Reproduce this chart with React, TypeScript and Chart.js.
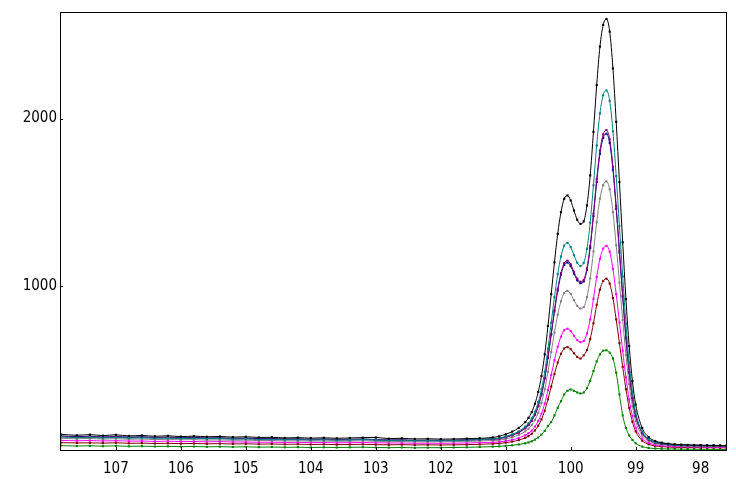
import React, { useEffect, useRef } from "react";
import { Chart, registerables } from "chart.js";

Chart.register(...registerables);

// Binding energy (eV)
const energies = [
  107.85, 107.6, 107.4, 107.2, 107.0, 106.8, 106.6, 106.4, 106.2, 106.0,
  105.8, 105.6, 105.4, 105.2, 105.0, 104.8, 104.6, 104.4, 104.2, 104.0,
  103.8, 103.6, 103.4, 103.2, 103.0, 102.8, 102.6, 102.4, 102.2, 102.0,
  101.8, 101.6, 101.4, 101.2,
  101.1, 101.0, 100.9, 100.8, 100.7,
  100.65, 100.6, 100.55, 100.5, 100.45, 100.4, 100.35, 100.3, 100.25, 100.2,
  100.15, 100.1, 100.05, 100.0, 99.95, 99.9, 99.85, 99.8, 99.75, 99.7,
  99.65, 99.6, 99.55, 99.5, 99.45, 99.4, 99.35, 99.3, 99.25, 99.2,
  99.15, 99.1, 99.05, 99.0,
  98.9, 98.8, 98.7, 98.6, 98.5, 98.4, 98.3, 98.2, 98.1, 98.0, 97.9, 97.8, 97.7, 97.6,
];

const blackSeries = [
  112, 106, 110, 104, 109, 102, 105, 100, 103, 98, 101, 97, 99, 95, 97, 93, 94, 90, 92, 89,
  91, 88, 90, 92, 93, 86, 88, 84, 85, 83, 84, 86, 88, 93,
  100, 112, 128, 150, 185,
  210, 245, 295, 365, 460, 590, 760, 950, 1140, 1310, 1440, 1520, 1540, 1510, 1450, 1395, 1370, 1385, 1480, 1660,
  1920, 2200, 2430, 2560, 2595, 2520, 2300, 1980, 1620, 1260, 920, 640, 430, 290,
  150, 95, 72, 62, 56, 52, 50, 48, 47, 46, 45, 45, 44, 44,
];

const navySeries = [
  102, 98, 100, 96, 99, 95, 97, 93, 95, 91, 93, 90, 91, 88, 89, 86, 87, 84, 85, 82,
  84, 81, 82, 84, 80, 78, 79, 76, 77, 76, 77, 79, 82, 85,
  88, 97, 108, 124, 150,
  168, 194, 230, 281, 351, 446, 570, 708, 847, 971, 1066, 1125, 1139, 1117, 1073, 1033, 1015, 1026, 1095, 1227,
  1417, 1621, 1789, 1884, 1909, 1855, 1694, 1460, 1198, 935, 687, 482, 329, 223,
  122, 83, 65, 58, 53, 49, 48, 48, 47, 47, 46, 46, 45, 45,
];

const tealSeries = [
  96, 92, 94, 90, 93, 89, 91, 88, 89, 86, 88, 85, 86, 83, 84, 81, 82, 79, 80, 78,
  79, 77, 78, 80, 77, 75, 76, 73, 74, 73, 74, 77, 80, 84,
  89, 99, 112, 130, 158,
  178, 207, 247, 304, 381, 486, 624, 778, 932, 1069, 1175, 1240, 1256, 1231, 1183, 1138, 1118, 1137, 1221, 1377,
  1601, 1839, 2031, 2139, 2168, 2106, 1923, 1656, 1356, 1056, 773, 540, 365, 243,
  129, 84, 64, 57, 51, 47, 46, 45, 44, 44, 43, 43, 42, 42,
];

const purpleSeries = [
  99, 95, 97, 93, 96, 92, 94, 90, 92, 88, 90, 87, 88, 85, 86, 83, 84, 81, 82, 79,
  81, 78, 79, 81, 78, 76, 77, 74, 75, 74, 75, 77, 79, 82,
  84, 93, 105, 121, 147,
  166, 192, 229, 280, 351, 447, 573, 713, 854, 980, 1076, 1135, 1150, 1128, 1083, 1043, 1024, 1035, 1105, 1239,
  1431, 1638, 1808, 1905, 1931, 1875, 1712, 1475, 1209, 943, 691, 484, 328, 221,
  119, 79, 61, 54, 50, 46, 45, 44, 44, 43, 43, 42, 42, 41,
];

const graySeries = [
  88, 85, 87, 83, 86, 82, 84, 80, 82, 79, 80, 77, 78, 76, 77, 74, 75, 72, 73, 71,
  72, 70, 71, 73, 70, 68, 69, 67, 68, 67, 68, 70, 72, 75,
  77, 84, 94, 108, 129,
  145, 167, 198, 241, 300, 380, 486, 604, 721, 827, 907, 957, 969, 951, 914, 880, 864, 873, 932, 1044,
  1205, 1379, 1521, 1602, 1624, 1577, 1441, 1242, 1019, 796, 585, 411, 281, 191,
  105, 72, 57, 51, 47, 44, 43, 42, 42, 41, 41, 40, 40, 40,
];

const magentaSeries = [
  76, 73, 75, 72, 74, 71, 72, 69, 71, 68, 69, 67, 68, 66, 66, 64, 65, 63, 64, 62,
  63, 61, 62, 63, 61, 60, 60, 58, 59, 58, 59, 60, 62, 64,
  66, 72, 79, 90, 106,
  118, 134, 158, 191, 235, 296, 376, 466, 555, 635, 696, 734, 743, 729, 701, 675, 663, 670, 715, 799,
  922, 1053, 1161, 1222, 1239, 1204, 1100, 950, 781, 611, 452, 320, 221, 151,
  86, 60, 49, 44, 41, 38, 38, 37, 37, 36, 36, 36, 35, 35,
];

const maroonSeries = [
  62, 60, 61, 59, 61, 58, 59, 57, 58, 56, 57, 55, 56, 54, 55, 53, 54, 52, 53, 51,
  52, 50, 51, 52, 50, 49, 50, 48, 49, 48, 49, 50, 52, 55,
  57, 62, 68, 77, 91,
  101, 115, 135, 163, 201, 253, 321, 397, 473, 541, 593, 625, 633, 621, 597, 575, 565, 584, 616, 681,
  776, 886, 977, 1029, 1042, 1013, 926, 799, 657, 515, 381, 270, 187, 129,
  74, 52, 42, 38, 36, 34, 33, 33, 33, 32, 32, 32, 31, 31,
];

const greenSeries = [
  44, 42, 43, 41, 43, 40, 41, 39, 40, 38, 39, 37, 38, 36, 37, 35, 36, 34, 35, 33,
  34, 33, 34, 35, 33, 32, 33, 31, 32, 32, 33, 34, 36, 38,
  40, 43, 46, 51, 58,
  63, 70, 80, 93, 110, 132, 162, 185, 225, 270, 310, 350, 372, 380, 372, 362, 356, 362, 388, 432,
  490, 548, 590, 612, 614, 600, 565, 480, 350, 225, 150, 105, 78, 58,
  38, 30, 27, 25, 24, 24, 23, 23, 23, 22, 22, 22, 21, 21,
];

// First entry is drawn on top
const seriesList = [
  { name: "black", color: "#000000", values: blackSeries },
  { name: "teal", color: "#008080", values: tealSeries },
  { name: "purple", color: "#800080", values: purpleSeries },
  { name: "navy", color: "#000080", values: navySeries },
  { name: "gray", color: "#808080", values: graySeries },
  { name: "magenta", color: "#FF00FF", values: magentaSeries },
  { name: "maroon", color: "#800000", values: maroonSeries },
  { name: "green", color: "#008000", values: greenSeries },
];

const xTickValues = [107, 106, 105, 104, 103, 102, 101, 100, 99, 98];
const yTickValues = [1000, 2000];

const X_MIN = 97.61;
const X_MAX = 107.86;
const Y_MIN = 18;
const Y_MAX = 2637;

const tickFont = { family: '"DejaVu Sans Condensed", "DejaVu Sans", sans-serif', size: 15 };

const framePlugin = {
  id: "frameAndInnerTicks",
  afterDatasetsDraw(chart: any) {
    const { ctx, chartArea } = chart;
    const { left, top, right, bottom } = chartArea;
    const xs = chart.scales.x;
    const ys = chart.scales.y;
    ctx.save();
    ctx.strokeStyle = "#000";
    ctx.lineWidth = 1;
    ctx.strokeRect(left + 0.5, top + 0.5, right - left, bottom - top);
    ctx.beginPath();
    for (const v of xTickValues) {
      const px = Math.round(xs.getPixelForValue(v)) + 0.5;
      ctx.moveTo(px, bottom);
      ctx.lineTo(px, bottom - 3);
    }
    for (const v of yTickValues) {
      const py = Math.round(ys.getPixelForValue(v)) + 0.5;
      ctx.moveTo(left, py);
      ctx.lineTo(left + 3, py);
    }
    ctx.stroke();
    ctx.restore();
  },
};

export default function App() {
  const canvasRef = useRef<HTMLCanvasElement | null>(null);

  useEffect(() => {
    document.body.style.margin = "0";
    const canvas = canvasRef.current;
    if (!canvas) return;
    const datasets = seriesList.map((s) => ({
      label: s.name,
      data: energies.map((e, i) => ({ x: e, y: s.values[i] })),
      borderColor: s.color,
      backgroundColor: s.color,
      pointBackgroundColor: s.color,
      borderWidth: 1,
      pointRadius: 1.5,
      pointStyle: "rect" as const,
      pointBorderWidth: 0,
      cubicInterpolationMode: "monotone" as const,
      fill: false,
    }));

    const chart = new Chart(canvas, {
      type: "line",
      data: { datasets },
      options: {
        animation: false,
        responsive: false,
        maintainAspectRatio: false,
        layout: { padding: { top: 10, right: 10, left: 0, bottom: 0 } },
        plugins: { legend: { display: false }, tooltip: { enabled: false } },
        scales: {
          x: {
            type: "linear",
            reverse: true,
            min: X_MIN,
            max: X_MAX,
            grid: { display: false, drawTicks: false },
            border: { display: false },
            afterBuildTicks: (scale: any) => {
              scale.ticks = xTickValues.map((v) => ({ value: v }));
            },
            afterFit: (scale: any) => {
              scale.height = 29;
            },
            ticks: {
              color: "#000",
              font: tickFont,
              padding: 10,
              maxRotation: 0,
              autoSkip: false,
              callback: (v: any) => String(v),
            },
          },
          y: {
            type: "linear",
            min: Y_MIN,
            max: Y_MAX,
            grid: { display: false, drawTicks: false },
            border: { display: false },
            afterBuildTicks: (scale: any) => {
              scale.ticks = yTickValues.map((v) => ({ value: v }));
            },
            afterFit: (scale: any) => {
              scale.width = 60;
            },
            ticks: {
              color: "#000",
              font: tickFont,
              padding: 3,
              autoSkip: false,
              callback: (v: any) => String(v),
            },
          },
        },
      },
      plugins: [framePlugin],
    });
    return () => chart.destroy();
  }, []);

  return (
    <div style={{ position: "absolute", left: 0, top: 0, width: 736, height: 479, background: "#fff" }}>
      <canvas ref={canvasRef} width={736} height={479} style={{ display: "block" }} />
    </div>
  );
}
